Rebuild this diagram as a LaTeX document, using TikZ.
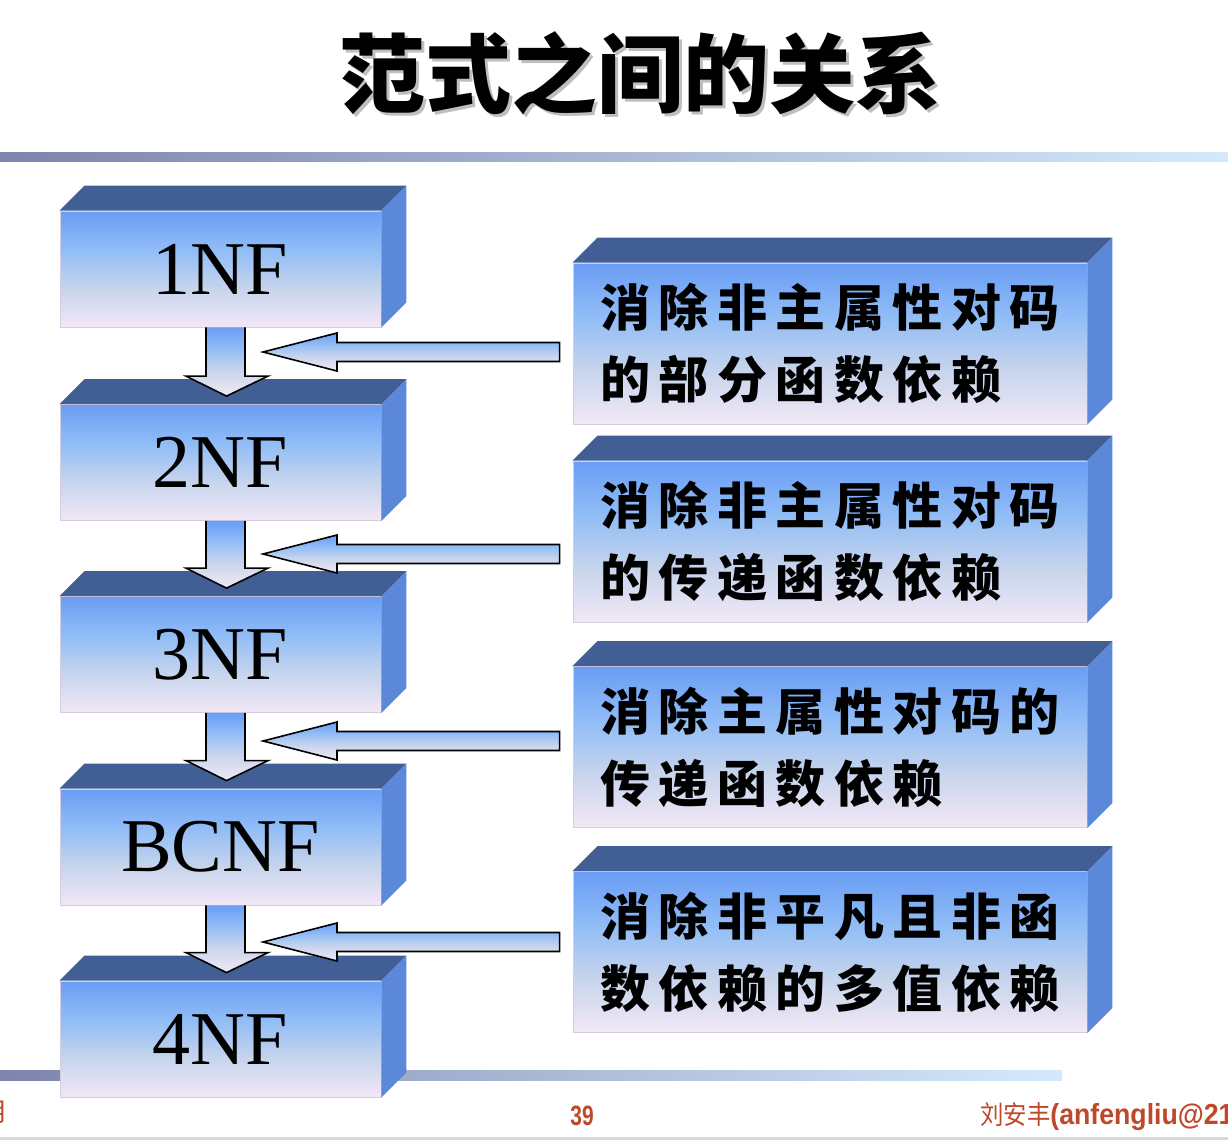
\documentclass[tikz,border=0pt]{standalone}
\usepackage{fontspec}
\setmainfont{Liberation Serif}
\newfontfamily\cjk{Noto Sans CJK SC}
\newfontfamily\cjkspaced[LetterSpace=17]{Noto Sans CJK SC}
\newfontfamily\footsans{Liberation Sans}
\usetikzlibrary{calc}

% colours
\definecolor{ft}{RGB}{106,157,245}
\definecolor{fm}{RGB}{145,189,246}
\definecolor{fl}{RGB}{198,212,236}
\definecolor{fb}{RGB}{242,232,246}
\definecolor{topc}{RGB}{65,95,149}
\definecolor{sidec}{RGB}{91,136,216}
\definecolor{edgec}{RGB}{214,206,224}
\definecolor{barl}{RGB}{126,132,173}
\definecolor{barr}{RGB}{212,234,252}
\definecolor{footc}{RGB}{192,72,42}
\definecolor{rulec}{RGB}{216,216,216}

% blue-to-lavender face gradient (0bp = bottom)
\pgfdeclareverticalshading{frontgrad}{100bp}{color(0bp)=(fb); color(25bp)=(fb); color(42bp)=(fl); color(58bp)=(fm); color(75bp)=(ft); color(100bp)=(ft)}
\pgfdeclareverticalshading{arrowgrad}{100bp}{color(0bp)=(fb); color(25bp)=(fb); color(45bp)=(fl); color(60bp)=(fm); color(75bp)=(ft); color(100bp)=(ft)}

\tikzset{
  frontface/.style={shading=frontgrad, draw=edgec, line width=0.8pt, inner sep=0pt},
  nfbox/.style={frontface, minimum width=321, minimum height=116,
    font=\fontsize{76}{76}\selectfont},
  rulebox/.style={frontface, minimum width=514, minimum height=161, align=left,
    font={\cjkspaced\bfseries\fontsize{50}{72}\selectfont}},
  arrowfill/.style={shading=arrowgrad},
  arrowline/.style={draw=black, line width=1.6pt, line join=miter},
  footer/.style={text=footc, inner sep=0pt},
  titlefont/.style={font={\cjk\bfseries\fontsize{86}{86}\selectfont}},
}

% top and side faces of a slab, depth #1
\newcommand\faces[2][25]{%
  \fill[topc] (#2.north west) -- ($(#2.north west)+(#1,-#1)$) -- ($(#2.north east)+(#1,-#1)$) -- (#2.north east) -- cycle;
  \fill[sidec] (#2.north east) -- ($(#2.north east)+(#1,-#1)$) -- ($(#2.south east)+(#1,-#1)$) -- (#2.south east) -- cycle;}

% block arrow pointing down from slab #1 to slab #2
\newcommand\dnarrow[2]{%
  \path[arrowfill] ($(#1.south)+(-14.5,0)$) -- ($(#1.south)+(24.5,0)$) -- ($(#2.north)+(24.5,-28)$) -- ($(#2.north)+(47.5,-28)$) -- ($(#2.north)+(6,-8)$) -- ($(#2.north)+(-34.5,-28)$) -- ($(#2.north)+(-14.5,-28)$) -- cycle;
  \draw[arrowline] ($(#1.south)+(24.5,0)$) -- ($(#2.north)+(24.5,-28)$) -- ($(#2.north)+(47.5,-28)$) -- ($(#2.north)+(6,-8)$) -- ($(#2.north)+(-34.5,-28)$) -- ($(#2.north)+(-14.5,-28)$) -- ($(#1.south)+(-14.5,0)$);}

% block arrow pointing left, tip at #1, tail next to slab #2
\newcommand\lfarrow[2]{%
  \path[arrowfill,arrowline] (#1) -- ($(#1)+(74,-19)$) -- ($(#1)+(74,-9.5)$) -- ($(#1 -| #2.west)+(-13,-9.5)$) -- ($(#1 -| #2.west)+(-13,9.5)$) -- ($(#1)+(74,9.5)$) -- ($(#1)+(74,19)$) -- cycle;}

\begin{document}
\begin{tikzpicture}[x=1pt,y=-1pt]
\useasboundingbox (0,0) rectangle (1228,1140);
\clip (0,0) rectangle (1228,1140);
\fill[white] (0,0) rectangle (1228,1140);

% title with soft shadow
\node[titlefont, text=gray!50] (titleshadow) at (643,76) {范式之间的关系};
\node[titlefont] (title) at (640,73) {范式之间的关系};

% rules
\shade[left color=barl, right color=barr] (0,152) rectangle (1228,161);
\shade[left color=barl, right color=barr] (0,1070) rectangle (1062,1080);
\fill[rulec] (0,1137) rectangle (1228,1140);

% normal form slabs
\node[nfbox] (n1) at (220.5,269) {1NF};     \faces{n1}
\node[nfbox] (n2) at (220.5,462.5) {2NF};   \faces{n2}
\node[nfbox] (n3) at (220.5,654.5) {3NF};   \faces{n3}
\node[nfbox] (n4) at (220.5,847) {BCNF};    \faces{n4}
\node[nfbox] (n5) at (220.5,1039) {4NF};    \faces{n5}

% rule slabs
\node[rulebox] (r1) at (830,343.5) {消除非主属性对码\\的部分函数依赖};    \faces{r1}
\node[rulebox] (r2) at (830,541.5) {消除非主属性对码\\的传递函数依赖};    \faces{r2}
\node[rulebox] (r3) at (830,747) {消除主属性对码的\\传递函数依赖};        \faces{r3}
\node[rulebox] (r4) at (830,952) {消除非平凡且非函\\数依赖的多值依赖};    \faces{r4}

% downward steps
\dnarrow{n1}{n2}
\dnarrow{n2}{n3}
\dnarrow{n3}{n4}
\dnarrow{n4}{n5}

% rule arrows
\coordinate (t1) at (263,352);
\coordinate (t2) at (263,554);
\coordinate (t3) at (263,741);
\coordinate (t4) at (263,942);
\lfarrow{t1}{r1}
\lfarrow{t2}{r2}
\lfarrow{t3}{r3}
\lfarrow{t4}{r4}

% footer
\node[footer, anchor=east, font={\cjk\fontsize{26}{26}\selectfont}] (fdate) at (9,1112) {月};
\node[footer, font={\footsans\bfseries\fontsize{28}{28}\selectfont}] (fpage) at (582,1116) {\scalebox{0.75}[1]{39}};
\node[footer, anchor=west] (fauthor) at (980,1117)
  {{\cjk\fontsize{26}{26}\selectfont\scalebox{0.9}[1]{刘安丰}}{\footsans\bfseries\fontsize{29}{29}\selectfont\scalebox{0.92}[1]{(anfengliu@21}}};
\end{tikzpicture}
\end{document}
